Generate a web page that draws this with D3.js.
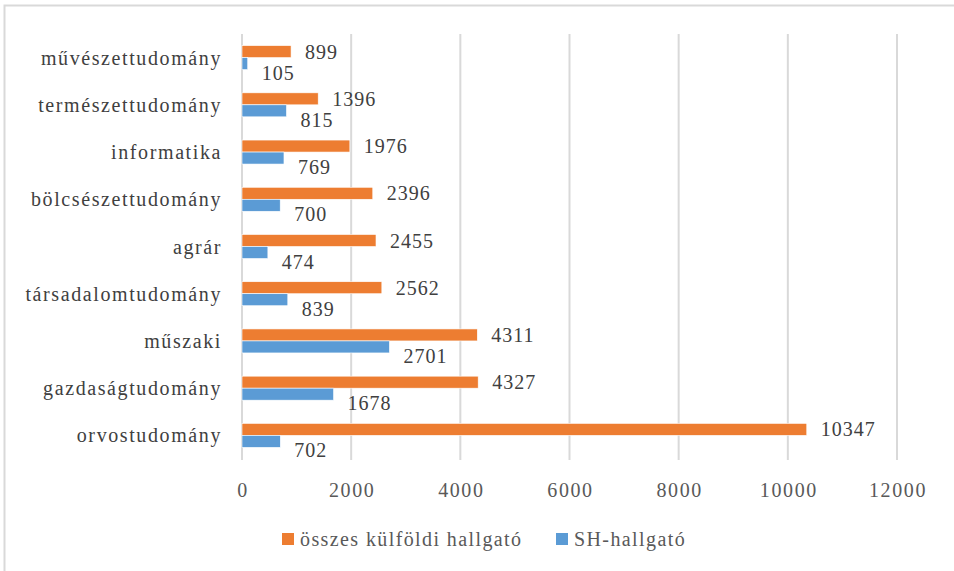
<!DOCTYPE html>
<html>
<head>
<meta charset="utf-8">
<script src="https://cdn.jsdelivr.net/npm/d3@7"></script>
<style>
  body { margin: 0; background: #fff; }
</style>
</head>
<body>
<div id="chart"></div>
<script>
// Adatok
const categories = ['művészettudomány', 'természettudomány', 'informatika', 'bölcsészettudomány', 'agrár',
    'társadalomtudomány', 'műszaki', 'gazdaságtudomány', 'orvostudomány'];
const osszes = [899, 1396, 1976, 2396, 2455, 2562, 4311, 4327, 10347];
const sh = [105, 815, 769, 700, 474, 839, 2701, 1678, 702];
const ticks = [0, 2000, 4000, 6000, 8000, 10000, 12000];
const seriesNames = ['összes külföldi hallgató', 'SH-hallgató'];

const orange = '#ED7D31', blue = '#5B9BD5';
const width = 954, height = 571;

const svg = d3.select('#chart').append('svg')
    .attr('width', width)
    .attr('height', height)
    .attr('font-family', 'Liberation Serif');

// keret
svg.append('path')
    .attr('d', 'M4.5,571 V5.5 H954')
    .attr('fill', 'none')
    .attr('stroke', '#d9d9d9')
    .attr('stroke-width', 2);

const x = d3.scaleLinear().domain([0, 12000]).range([242, 897]);
const y = d3.scaleBand().domain(categories).range([34, 459]);
const barH = 12;

// Rács
svg.selectAll('.grid')
    .data(ticks)
    .enter()
    .append('line')
    .attr('x1', d => x(d)).attr('x2', d => x(d))
    .attr('y1', 34).attr('y2', 460)
    .attr('stroke', '#d9d9d9')
    .attr('stroke-width', 2);

// Tengely feliratok
svg.selectAll('.tick')
    .data(ticks)
    .enter()
    .append('text')
    .attr('x', d => x(d) + 1)
    .attr('y', 497)
    .attr('text-anchor', 'middle')
    .attr('font-size', 20)
    .attr('letter-spacing', 1.6)
    .attr('fill', '#595959')
    .text(d => d);

const mid = d => y(d) + y.bandwidth() / 2;

// Kategóriák
svg.selectAll('.cat')
    .data(categories)
    .enter()
    .append('text')
    .attr('x', 222)
    .attr('y', d => mid(d))
    .attr('dy', '0.35em')
    .attr('text-anchor', 'end')
    .attr('font-size', 20)
    .attr('letter-spacing', 1.6)
    .attr('fill', '#404040')
    .text(d => d);

// Oszlopok
svg.selectAll('.bar-o')
    .data(categories)
    .enter()
    .append('rect')
    .attr('x', x(0))
    .attr('y', d => mid(d) - barH)
    .attr('width', (d, i) => x(osszes[i]) - x(0))
    .attr('height', barH)
    .attr('fill', orange)
    .attr('stroke', '#fff')
    .attr('stroke-width', 0.6);

svg.selectAll('.bar-b')
    .data(categories)
    .enter()
    .append('rect')
    .attr('x', x(0))
    .attr('y', d => mid(d))
    .attr('width', (d, i) => x(sh[i]) - x(0))
    .attr('height', barH)
    .attr('fill', blue)
    .attr('stroke', '#fff')
    .attr('stroke-width', 0.6);

// Értékek
svg.selectAll('.lab-o')
    .data(categories)
    .enter()
    .append('text')
    .attr('x', (d, i) => x(osszes[i]) + 14)
    .attr('y', d => mid(d) - 6)
    .attr('dy', '0.35em')
    .attr('font-size', 20)
    .attr('letter-spacing', 1)
    .attr('fill', '#404040')
    .text((d, i) => osszes[i]);

svg.selectAll('.lab-b')
    .data(categories)
    .enter()
    .append('text')
    .attr('x', (d, i) => x(sh[i]) + 14)
    .attr('y', d => mid(d) + 15)
    .attr('dy', '0.35em')
    .attr('font-size', 20)
    .attr('letter-spacing', 1)
    .attr('fill', '#404040')
    .text((d, i) => sh[i]);

// Jelmagyarázat
const legend = [{name: seriesNames[0], color: orange, x: 282}, {name: seriesNames[1], color: blue, x: 556}];
const lg = svg.selectAll('.leg')
    .data(legend)
    .enter()
    .append('g')
    .attr('transform', d => 'translate(' + d.x + ',0)');

lg.append('rect')
    .attr('x', 0).attr('y', 533)
    .attr('width', 12).attr('height', 12)
    .attr('fill', d => d.color);

lg.append('text')
    .attr('x', 18)
    .attr('y', 546)
    .attr('font-size', 20)
    .attr('letter-spacing', 1.4)
    .attr('fill', '#595959')
    .text(d => d.name);
</script>
</body>
</html>
